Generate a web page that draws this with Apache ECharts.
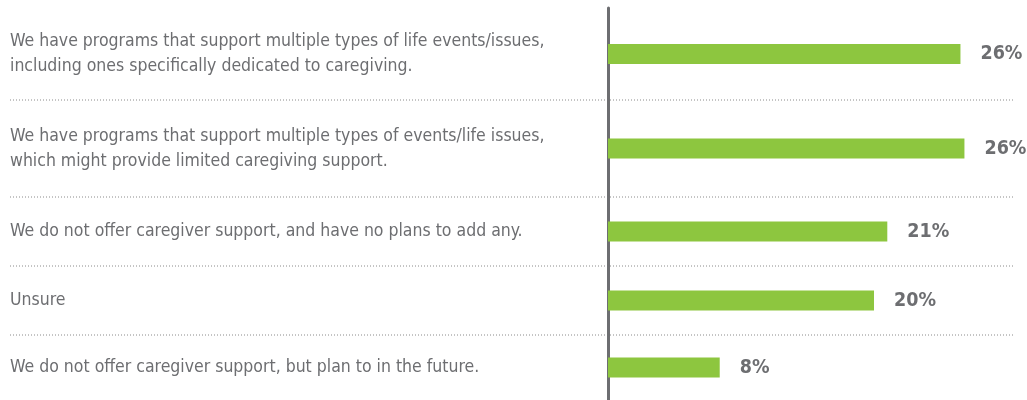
<!DOCTYPE html>
<html>
<head>
<meta charset="utf-8">
<script src="https://cdn.jsdelivr.net/npm/echarts@6/dist/echarts.min.js"></script>
<style>
  html, body { margin: 0; padding: 0; background: #fff; }
  #chart { width: 1027px; height: 400px; }
</style>
</head>
<body>
<div id="chart"></div>
<script>
// answers, top to bottom
var categories = [
    'We have programs that support multiple types of life events/issues,\nincluding ones specifically dedicated to caregiving.',
    'We have programs that support multiple types of events/life issues,\nwhich might provide limited caregiving support.',
    'We do not offer caregiver support, and have no plans to add any.',
    'Unsure',
    'We do not offer caregiver support, but plan to in the future.'
]
var values = [26.5, 26.8, 21, 20, 8.4]
var valueLabels = ['26%', '26%', '21%', '20%', '8%']

// row edges in px (rows are taller for two-line answers)
var rowEdges = [8, 100, 197, 266, 335, 404]

var textColor = '#6d6e71'
var font = '"Liberation Sans Narrow", "DejaVu Sans Condensed", sans-serif'

var chart = echarts.init(document.getElementById('chart'))

var grids = [], xAxes = [], yAxes = [], series = [], lines = []
for (var i = 0; i < categories.length; i++) {
    grids.push({
        left: 608,
        right: 20,
        top: rowEdges[i],
        height: rowEdges[i + 1] - rowEdges[i]
    })
    xAxes.push({
        gridIndex: i,
        type: 'value',
        min: 0,
        max: 30,
        show: false
    })
    yAxes.push({
        gridIndex: i,
        type: 'category',
        data: [categories[i]],
        axisTick: { show: false },
        axisLine: {
            show: true,
            lineStyle: { color: textColor, width: 3 }
        },
        axisLabel: {
            align: 'left',
            margin: 598,
            color: textColor,
            fontFamily: font,
            fontSize: 17.5,
            lineHeight: 25
        }
    })
    series.push({
        type: 'bar',
        xAxisIndex: i,
        yAxisIndex: i,
        barWidth: 20,
        itemStyle: { color: '#8dc63f' },
        label: {
            show: true,
            position: 'right',
            distance: 20,
            color: textColor,
            fontFamily: font,
            fontWeight: 'bold',
            fontSize: 19.5,
            formatter: (function (t) { return function () { return t } })(valueLabels[i])
        },
        data: [values[i]],
        silent: true
    })
    if (i > 0) {
        lines.push({
            type: 'line',
            shape: { x1: 10, y1: rowEdges[i], x2: 1013, y2: rowEdges[i] },
            style: { stroke: '#8a8a8a', lineWidth: 1, lineDash: [1, 2] },
            z: 0
        })
    }
}

chart.setOption({
    animation: false,
    grid: grids,
    xAxis: xAxes,
    yAxis: yAxes,
    series: series,
    graphic: lines
})
</script>
</body>
</html>
